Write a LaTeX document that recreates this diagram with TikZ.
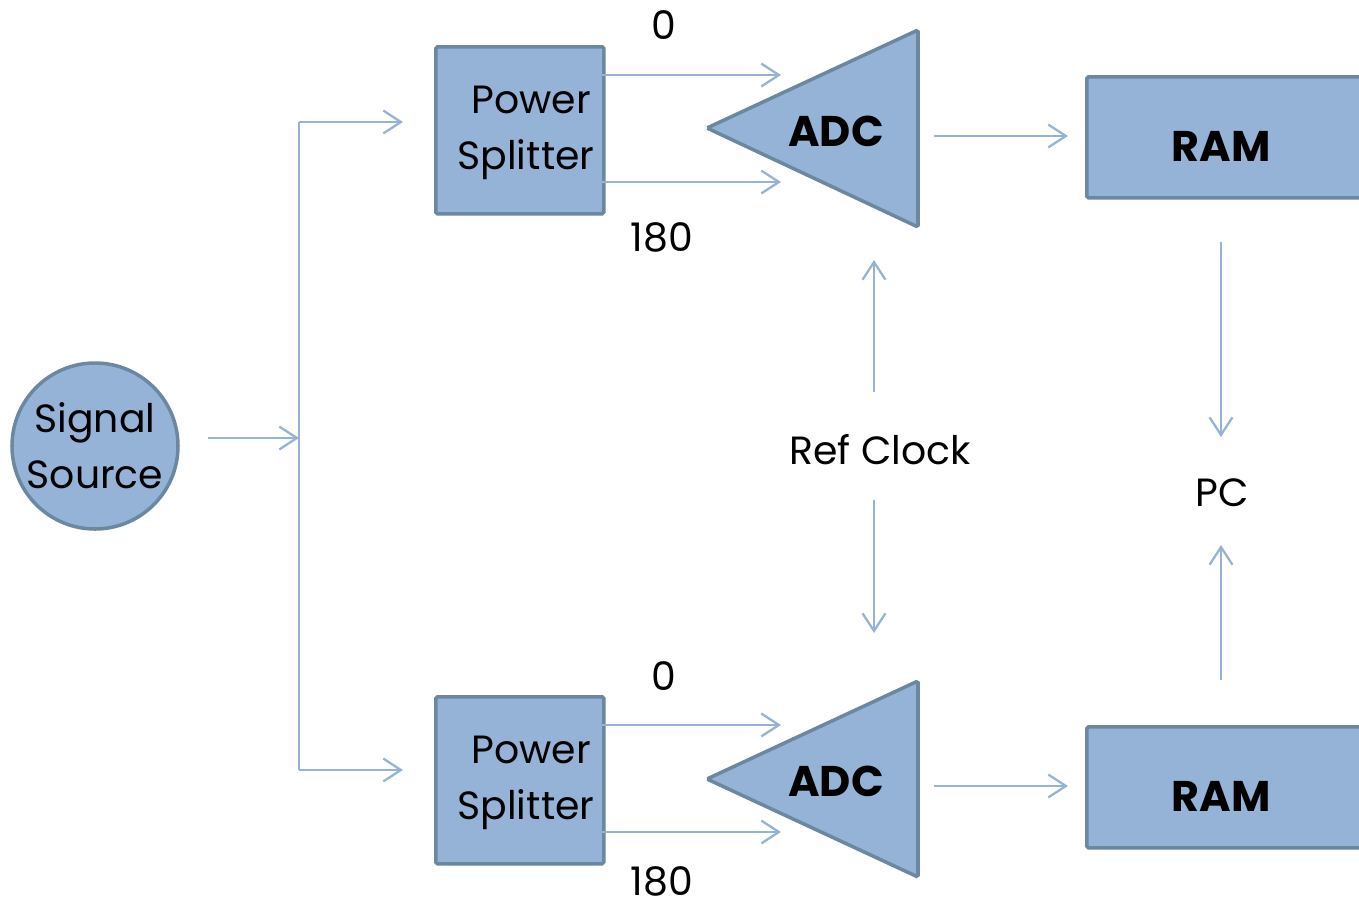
\documentclass[tikz,border=0pt]{standalone}
\usepackage{fontspec}
\setmainfont{Poppins}
\usetikzlibrary{arrows.meta}
\definecolor{boxfill}{HTML}{95B3D7}
\definecolor{boxline}{HTML}{6C87A0}
\definecolor{arrowc}{HTML}{95B3D7}
\tikzset{
  conn/.style={draw=arrowc, line width=0.65pt, -{Straight Barb[length=5pt,width=6.5pt,line width=0.65pt]}},
  plainline/.style={draw=arrowc, line width=0.65pt},
  block/.style={draw=boxline, fill=boxfill, line width=1pt, rounded corners=0.5pt},
  lbl/.style={font=\fontsize{11.2}{16}\selectfont, inner sep=0pt, align=center},
  blbl/.style={font=\fontsize{12.2}{15}\selectfont\bfseries, inner sep=0pt},
}
\begin{document}
\begin{tikzpicture}[x=0.01cm, y=-0.01cm]
\useasboundingbox (0,0) rectangle (1359,905);
\clip (0,0) rectangle (1359,905);
% signal source
\draw[block] (95,446) circle (83);
\node[lbl] (src) at (95,446) {Signal\\Source};
\coordinate (srcout) at (208,438);
\coordinate (bus) at (299,438);
\coordinate (bustop) at (299,122);
\coordinate (busbot) at (299,770);
\coordinate (pstin) at (403,122);
\coordinate (psbin) at (403,770);
\draw[conn] (srcout) -- (bus);
\draw[plainline] (bustop) -- (busbot);
\draw[conn] (bustop) -- (pstin);
\draw[conn] (busbot) -- (psbin);
% power splitters
\node[block, minimum width=1.68cm, minimum height=1.67cm, anchor=north west] (pst) at (434,45) {};
\node[lbl] (pstt) at (526,133) {\ Power\\Splitter};
\node[block, minimum width=1.68cm, minimum height=1.67cm, anchor=north west] (psb) at (434,695) {};
\node[lbl] (psbt) at (526,783) {\ Power\\Splitter};
% ADC triangles
\draw[block] (707,128) -- (918,30) -- (918,227) -- cycle;
\node[blbl] (adct) at (836,131) {ADC};
\draw[block] (707,779) -- (918,681) -- (918,877) -- cycle;
\node[blbl] (adcb) at (836,781) {ADC};
% splitter -> ADC
\coordinate (t0a) at (602,75); \coordinate (t0b) at (781,75);
\coordinate (t1a) at (602,182); \coordinate (t1b) at (781,182);
\coordinate (b0a) at (602,725); \coordinate (b0b) at (781,725);
\coordinate (b1a) at (602,832); \coordinate (b1b) at (781,832);
\draw[conn] (t0a) -- (t0b);
\draw[conn] (t1a) -- (t1b);
\draw[conn] (b0a) -- (b0b);
\draw[conn] (b1a) -- (b1b);
\node[lbl] (lt0) at (664,25) {0};
\node[lbl] (lt1) at (662,237) {180};
\node[lbl] (lb0) at (664,676) {0};
\node[lbl] (lb1) at (662,881) {180};
% RAM
\node[block, minimum width=3cm, minimum height=1.21cm, anchor=north west] (ramt) at (1085,75) {};
\node[blbl] (ramtt) at (1221,146) {RAM};
\node[block, minimum width=3cm, minimum height=1.21cm, anchor=north west] (ramb) at (1085,725) {};
\node[blbl] (rambt) at (1221,796) {RAM};
\coordinate (at1) at (934,136); \coordinate (at2) at (1068,136);
\coordinate (ab1) at (934,786); \coordinate (ab2) at (1068,786);
\draw[conn] (at1) -- (at2);
\draw[conn] (ab1) -- (ab2);
% PC
\node[lbl] (pc) at (1222,493) {PC};
\coordinate (pc1) at (1221,242); \coordinate (pc2) at (1221,437);
\coordinate (pc3) at (1221,680); \coordinate (pc4) at (1221,545);
\draw[conn] (pc1) -- (pc2);
\draw[conn] (pc3) -- (pc4);
% Ref clock
\node[lbl] (ref) at (880,450) {Ref Clock};
\coordinate (r1) at (874,392); \coordinate (r2) at (874,260);
\coordinate (r3) at (874,500); \coordinate (r4) at (874,633);
\draw[conn] (r1) -- (r2);
\draw[conn] (r3) -- (r4);
\end{tikzpicture}
\end{document}
